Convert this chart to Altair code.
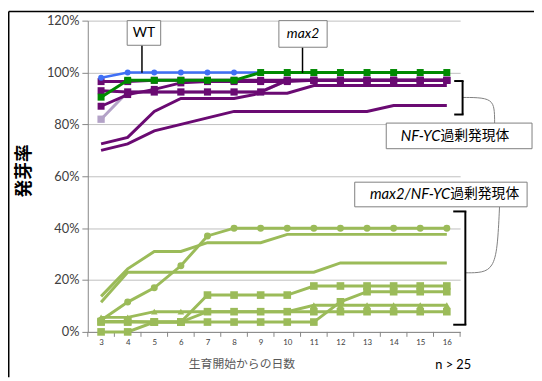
import altair as alt
import pandas as pd

# ---------------- data ----------------
days = list(range(3, 17))

wt = [98, 100, 100, 100, 100, 100, 100, 100, 100, 100, 100, 100, 100, 100]
max2 = [90.5, 97, 97, 97, 97, 97, 100, 100, 100, 100, 100, 100, 100, 100]

nfyc_lav = [82, 92.5, 92.5, 92.5, 92.5, 92.5, 92.5, 97, 97, 97, 97, 97, 97, 97]
nfyc_a = [96.5, 96.5, 97, 97, 97, 97, 97, 97, 97, 97, 97, 97, 97, 97]
nfyc_b = [93, 92.5, 92.5, 92.5, 92.5, 92.5, 92.5, 97, 97, 97, 97, 97, 97, 97]
nfyc_c = [87, 91.5, 93.5, 96, 96.5, 96.5, 96.5, 96.5, 97, 97, 97, 97, 97, 97]
nfyc_d = [72.5, 75, 85, 90, 90, 90, 92, 92, 95, 95, 95, 95, 95, 95]
nfyc_e = [70, 72.5, 77.5, 80, 82.5, 85, 85, 85, 85, 85, 85, 87.3, 87.3, 87.3]

mn_1 = [4.5, 11.5, 17, 25.5, 37, 40, 40, 40, 40, 40, 40, 40, 40, 40]
mn_2 = [13.7, 24.3, 31, 31, 34.4, 34.4, 34.4, 37.6, 37.6, 37.6, 37.6, 37.6, 37.6, 37.6]
mn_3 = [11.4, 23, 23, 23, 23, 23, 23, 23, 23, 26.6, 26.6, 26.6, 26.6, 26.6]
mn_4 = [4, 4, 3.8, 3.8, 14.2, 14.2, 14.2, 14.2, 17.7, 17.7, 17.7, 17.7, 17.7, 17.7]
mn_5 = [0, 0, 3.8, 3.8, 3.8, 3.8, 3.8, 3.8, 3.8, 11.6, 15.5, 15.5, 15.5, 15.5]
mn_6 = [5.6, 5.6, 7.8, 7.8, 7.8, 7.8, 7.8, 7.8, 10.3, 10.3, 10.3, 10.3, 10.3, 10.3]
mn_7 = [3.8, 3.8, 3.8, 3.8, 7.8, 7.8, 7.8, 7.8, 7.8, 7.8, 7.8, 7.8, 7.8, 7.8]

y_ticks = [0, 20, 40, 60, 80, 100, 120]
# category-axis tick marks sit between the days
x_tick_marks = [d - 0.5 for d in days] + [days[-1] + 0.5]

series_values = {
    "mn_1": mn_1, "mn_2": mn_2, "mn_3": mn_3, "mn_4": mn_4,
    "mn_5": mn_5, "mn_6": mn_6, "mn_7": mn_7,
    "nfyc_lav": nfyc_lav, "nfyc_e": nfyc_e, "nfyc_d": nfyc_d,
    "nfyc_c": nfyc_c, "nfyc_b": nfyc_b, "nfyc_a": nfyc_a,
    "wt": wt, "max2": max2,
}

# ---------------- styles ----------------
YG = "#9bbb59"
PU = "#6a0a72"
styles = {
    "mn_1": (YG, "circle", 50, 3),
    "mn_2": (YG, None, 0, 3),
    "mn_3": (YG, None, 0, 3),
    "mn_4": (YG, "square", 60, 3),
    "mn_5": (YG, "square", 60, 3),
    "mn_6": (YG, "triangle-up", 45, 3),
    "mn_7": (YG, "square", 60, 3),
    "nfyc_lav": ("#b3a2c7", "square", 55, 3),
    "nfyc_e": (PU, None, 0, 3),
    "nfyc_d": (PU, None, 0, 3),
    "nfyc_c": (PU, "square", 50, 3),
    "nfyc_b": (PU, "square", 50, 3),
    "nfyc_a": (PU, "square", 50, 3),
    "wt": ("#3f6ff5", "circle", 36, 2.5),
    "max2": ("#008a00", "square", 50, 3),
}

rows = []
for name, vals in series_values.items():
    for d, v in zip(days, vals):
        rows.append({"series": name, "day": d, "value": v})
df = pd.DataFrame(rows)

LAT = "Lato, 'Noto Sans CJK JP', sans-serif"
JP = "'Noto Sans CJK JP', sans-serif"

W, H = 378, 316

x_enc = alt.X(
    "day:Q",
    scale=alt.Scale(domain=[2.5, 16.5], nice=False, zero=False),
    axis=alt.Axis(
        values=days,
        format="d",
        ticks=False,
        grid=False,
        labelOverlap=False,
        labelFontSize=8,
        labelFont=LAT,
        labelColor="#404040",
        labelPadding=7,
        domainColor="#868686",
        title="生育開始からの日数",
        titleFont=JP,
        titleFontSize=12,
        titleFontWeight="normal",
        titleColor="#595959",
        titleX=156,
        titleY=32,
        titleAlign="center",
        titleBaseline="middle",
    ),
)
y_enc = alt.Y(
    "value:Q",
    scale=alt.Scale(domain=[0, 120], nice=False),
    axis=alt.Axis(
        values=y_ticks,
        labelExpr="datum.value + '%'",
        grid=True,
        gridColor="#bfbfbf",
        domainColor="#868686",
        tickColor="#868686",
        tickSize=6,
        labelFont=LAT,
        labelFontSize=13,
        labelColor="#404040",
        labelPadding=3,
        title="発芽率",
        titleFont=JP,
        titleFontSize=18,
        titleFontWeight="bold",
        titleColor="#000000",
        titleX=-64,
        titleY=152,
        titleAlign="center",
        titleBaseline="middle",
        titleAngle=270,
    ),
)

layers = []

# x tick marks between categories
tick_df = pd.DataFrame({"day": x_tick_marks})
layers.append(
    alt.Chart(tick_df).mark_rule(color="#868686", strokeWidth=1)
    .encode(x=x_enc, y=alt.value(H), y2=alt.value(H + 5))
)

for name in series_values:
    color, shape, size, sw = styles[name]
    base = alt.Chart(df).transform_filter(alt.datum.series == name)
    layers.append(base.mark_line(color=color, strokeWidth=sw).encode(x=x_enc, y=y_enc))
    if shape:
        layers.append(
            base.mark_point(shape=shape, filled=True, color=color, size=size, opacity=1)
            .encode(x=x_enc, y=y_enc)
        )

one = pd.DataFrame({"a": [0]})


def px_to_day(px):
    return 2.5 + px * 14 / W


def px_to_val(py):
    return (H - py) * 120 / H


# callout connector curves (pixel offsets within plot area)
curve_pu_x = [381, 401, 411, 413, 413]
curve_pu_y = [78, 78, 82, 92, 104]
curve_gr_x = [384, 401, 411, 416, 418]
curve_gr_y = [256, 256, 250, 232, 189]

for cx, cy in [(curve_pu_x, curve_pu_y), (curve_gr_x, curve_gr_y)]:
    cdf = pd.DataFrame({
        "day": [px_to_day(v) for v in cx],
        "value": [px_to_val(v) for v in cy],
        "o": list(range(len(cx))),
    })
    layers.append(
        alt.Chart(cdf).mark_line(color="#7f7f7f", strokeWidth=1, interpolate="basis")
        .encode(x=x_enc, y=y_enc, order="o:Q")
    )


def rule(x1, y1, x2, y2, color="black", w=1.5):
    return alt.Chart(one).mark_rule(color=color, strokeWidth=w).encode(
        x=alt.value(x1), y=alt.value(y1), x2=alt.value(x2), y2=alt.value(y2)
    )


def box(x1, y1, x2, y2):
    return alt.Chart(one).mark_rect(fill="white", stroke="#7f7f7f", strokeWidth=1).encode(
        x=alt.value(x1), y=alt.value(y1), x2=alt.value(x2), y2=alt.value(y2)
    )


def text(t, x, y, size=14, font=LAT, style="normal", align="center", color="black"):
    return alt.Chart(one).mark_text(
        text=t, fontSize=size, font=font, fontStyle=style, align=align,
        baseline="middle", color=color
    ).encode(x=alt.value(x), y=alt.value(y))


# WT callout
layers += [rule(55, 25, 55, 53), box(40, 0, 74, 25), text("WT", 57, 13)]
# max2 callout
layers += [rule(218, 27, 218, 53), box(194, 0, 243, 27), text("max2", 218.5, 13.5, style="italic")]
# purple bracket
layers += [rule(380.5, 61.3, 380.5, 95.3, w=2), rule(372, 61.3, 381.5, 61.3, w=2),
           rule(372, 95.3, 381.5, 95.3, w=2)]
# green bracket
layers += [rule(383.3, 193.7, 383.3, 308.7, w=2), rule(371, 193.7, 384.3, 193.7, w=2),
           rule(371, 308.7, 384.3, 308.7, w=2)]
# NF-YC box
layers += [box(303, 104, 451, 130),
           text("NF-YC", 358, 117, size=15, style="italic", align="right"),
           text("過剰発現体", 358, 117, size=14, font=JP, align="left")]
# max2/NF-YC box
layers += [box(271, 164, 446, 189),
           text("max2/NF-YC", 368, 176.5, size=15, style="italic", align="right"),
           text("過剰発現体", 368, 176.5, size=14, font=JP, align="left")]
# n > 25
layers += [text("n > 25", 371, 350, size=13)]
# outer frame (left and top edges)
layers += [rule(-80.25, -9.25, -80.25, 362, w=1.5), rule(-80.25, -9.25, 453, -9.25, w=1.5)]

chart = alt.layer(*layers).properties(
    width=W, height=H,
    padding={"left": 81, "top": 10, "right": 75, "bottom": 47},
    autosize=alt.AutoSizeParams(type="none"),
).configure_view(stroke=None)

chart.save("out.html", embed_options={"renderer": "svg", "actions": False})
